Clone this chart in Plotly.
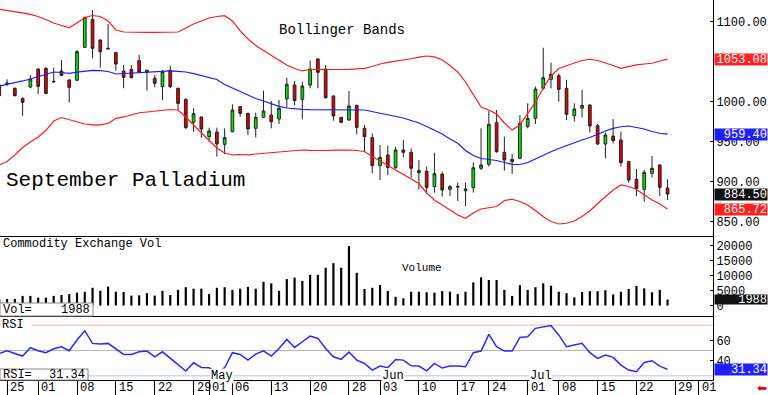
import plotly.graph_objects as go
import pandas as pd

# ---------------- data ----------------
holidays = ["2024-03-29", "2024-05-27", "2024-06-19", "2024-07-04"]
calendar = [d for d in pd.bdate_range("2024-03-22", "2024-08-02").strftime("%Y-%m-%d") if d not in holidays]
dates = calendar[:87]

open_ = [1020.7, 1023.2, 1016.6, 1004.1, 1018.2, 1040.7, 1041.6, 1024.5, 1038.2, 1027.0,
         1026.6, 1067.8, 1102.8, 1077.0, 1065.8, 1061.2, 1038.3, 1040.3, 1051.2, 1036.6,
         1029.1, 1018.7, 1039.1, 1016.6, 1002.8, 974.1, 980.75, 956.2, 962.0, 946.6,
         962.4, 993.7, 985.3, 966.6, 980.3, 983.25, 978.25, 1003.25, 1020.75, 1002.8,
         1020.75, 1053.25, 1040.75, 1007.0, 980.3, 977.0, 995.3, 966.6, 954.9, 919.9,
         933.25, 917.4, 939.5, 936.6, 911.2, 912.8, 893.7, 909.5, 890.3, 894.0,
         888.6, 892.4, 916.6, 921.6, 973.7, 936.6, 924.9, 929.1, 968.7, 979.1,
         1016.6, 1027.8, 1032.4, 1016.6, 982.4, 991.6, 995.75, 969.9, 947.0, 957.0,
         952.0, 924.9, 902.8, 890.3, 910.3, 920.75, 892.0]
high = [1022.0, 1027.8, 1017.5, 1005.0, 1033.2, 1041.5, 1043.0, 1042.4, 1052.0, 1028.0,
        1064.5, 1106.0, 1114.5, 1078.0, 1097.0, 1062.0, 1045.8, 1045.8, 1058.3, 1040.0,
        1033.3, 1039.5, 1044.9, 1017.5, 1004.0, 991.6, 981.5, 967.4, 967.4, 966.6,
        996.6, 994.5, 986.0, 986.2, 1013.7, 1000.75, 1002.0, 1029.9, 1025.75, 1024.9,
        1051.2, 1054.0, 1045.75, 1008.0, 981.0, 1013.25, 996.0, 970.75, 960.3, 945.75,
        944.9, 943.7, 952.0, 941.6, 927.0, 918.7, 936.2, 912.4, 895.75, 898.7,
        898.7, 924.1, 966.6, 988.25, 989.5, 956.2, 934.5, 983.25, 997.8, 1018.7,
        1067.4, 1048.7, 1035.3, 1027.0, 997.8, 1014.5, 996.5, 972.0, 961.2, 978.25,
        962.4, 926.0, 915.75, 914.5, 932.0, 921.5, 902.8]
low = [1005.0, 1019.5, 1006.5, 982.4, 1016.5, 1009.5, 1009.0, 1023.5, 1032.0, 998.7,
       1025.8, 1067.0, 1054.1, 1042.4, 1065.0, 1038.7, 1016.6, 1029.0, 1036.0, 1013.7,
       1017.8, 1002.0, 1017.0, 989.5, 966.0, 962.4, 954.9, 949.9, 931.2, 934.5,
       961.5, 981.2, 958.25, 955.3, 979.5, 966.6, 972.0, 992.8, 995.75, 977.8,
       1016.6, 1016.6, 1004.0, 976.2, 973.0, 976.0, 959.1, 937.4, 910.3, 902.0,
       908.25, 916.0, 930.3, 904.9, 890.3, 885.3, 886.2, 881.2, 882.0, 875.75,
       869.5, 886.2, 914.5, 918.7, 936.0, 913.7, 909.5, 928.0, 966.6, 972.0,
       1015.0, 1016.6, 999.9, 977.0, 974.9, 980.3, 961.2, 945.75, 929.1, 947.8,
       918.7, 898.7, 882.0, 874.9, 905.3, 882.0, 877.0]
close = [1007.4, 1022.6, 1007.4, 999.1, 1028.2, 1019.1, 1010.3, 1025.2, 1032.8, 1017.8,
         1062.4, 1105.3, 1066.6, 1062.4, 1066.6, 1047.0, 1030.3, 1029.9, 1036.6, 1039.1,
         1022.8, 1037.4, 1018.7, 997.8, 967.4, 984.9, 965.75, 963.25, 947.0, 954.9,
         989.5, 985.3, 965.75, 980.3, 988.25, 974.9, 991.6, 1021.6, 1001.2, 1019.5,
         1040.75, 1036.6, 1004.9, 982.0, 974.1, 994.5, 967.8, 956.2, 919.9, 930.3,
         917.8, 939.5, 936.6, 916.6, 913.7, 892.8, 909.9, 889.5, 893.7, 893.4,
         890.7, 917.4, 920.75, 971.6, 937.4, 927.0, 927.8, 972.8, 979.1, 1015.75,
         1029.9, 1034.1, 1015.3, 984.1, 990.75, 995.3, 969.5, 947.0, 958.25, 951.2,
         923.7, 902.0, 891.6, 911.6, 916.6, 892.8, 884.5]

bb_upper = [1115.4, 1114.1, 1112.6, 1110.8, 1109.1, 1106.4, 1102.6, 1098.3, 1095.1, 1092.6,
            1098.3, 1105.1, 1107.6, 1106.4, 1100.8, 1089.5, 1087.0, 1086.6, 1086.6, 1086.6,
            1086.6, 1086.6, 1086.6, 1087.0, 1092.0, 1097.0, 1100.8, 1104.5, 1106.4, 1107.4,
            1100.8, 1088.3, 1078.3, 1070.1, 1063.9, 1057.6, 1051.4, 1045.8, 1041.4, 1038.3,
            1040.1, 1040.1, 1039.5, 1039.5, 1040.1, 1040.4, 1040.8, 1041.6, 1043.9, 1047.0,
            1049.1, 1050.4, 1052.0, 1053.6, 1055.5, 1057.0, 1055.8, 1052.0, 1045.1, 1037.0,
            1024.5, 1008.3, 993.3, 989.5, 984.5, 973.3, 964.5, 970.8, 984.5, 999.5,
            1017.0, 1032.0, 1041.4, 1045.1, 1048.3, 1051.4, 1052.9, 1051.4, 1048.6, 1045.1,
            1041.6, 1043.9, 1045.8, 1047.0, 1047.9, 1050.8, 1053.08]
bb_middle = [1019.5, 1021.4, 1023.3, 1025.8, 1028.3, 1031.0, 1033.9, 1037.0, 1036.4, 1035.4,
             1036.8, 1038.3, 1039.0, 1038.6, 1037.6, 1034.5, 1035.1, 1035.9, 1036.4, 1037.0,
             1037.4, 1037.9, 1038.3, 1037.9, 1037.0, 1034.9, 1032.6, 1030.8, 1027.6, 1021.4,
             1017.0, 1012.4, 1007.4, 1003.9, 1000.8, 997.4, 994.1, 992.0, 990.8, 990.3,
             990.0, 989.8, 989.5, 989.5, 989.5, 989.5, 989.5, 989.5, 987.6, 985.8,
             983.6, 981.4, 979.5, 976.4, 973.3, 968.9, 963.9, 959.5, 953.3, 947.9,
             938.9, 932.6, 928.9, 927.9, 926.4, 923.9, 921.6, 921.4, 923.9, 928.3,
             933.3, 937.4, 941.4, 945.1, 948.9, 952.0, 955.1, 959.5, 963.3, 966.6,
             968.6, 969.5, 967.6, 965.8, 962.6, 960.4, 959.4]
bb_lower = [920.8, 925.1, 933.3, 942.6, 949.5, 955.8, 963.9, 975.8, 980.1, 977.6,
            974.5, 972.0, 970.8, 970.8, 972.6, 979.1, 980.8, 983.9, 986.1, 987.0,
            988.3, 989.3, 990.1, 989.5, 980.8, 970.8, 960.8, 951.4, 942.0, 935.8,
            933.3, 933.9, 933.3, 934.5, 935.4, 936.1, 936.6, 937.6, 938.9, 939.5,
            939.1, 938.6, 938.9, 939.3, 939.5, 939.5, 938.9, 937.6, 931.4, 925.8,
            920.1, 914.5, 909.5, 903.3, 897.6, 885.8, 877.0, 870.8, 864.5, 858.3,
            854.1, 860.8, 865.8, 867.6, 868.9, 876.4, 877.9, 875.1, 870.8, 863.9,
            856.1, 850.1, 847.0, 847.9, 850.8, 856.4, 863.3, 872.6, 880.8, 889.5,
            895.8, 893.9, 890.1, 883.3, 877.0, 872.0, 865.72]

volume = [2000, 2200, 2200, 3200, 3200, 2600, 2600, 3200, 3500, 3800,
          4300, 4600, 5900, 4900, 6300, 4600, 4500, 3300, 3400, 4100,
          3300, 4900, 3500, 5200, 6100, 5600, 5600, 3800, 5900, 6100,
          5200, 5600, 6200, 5600, 7900, 7400, 4900, 8800, 9300, 8200,
          10200, 10200, 12600, 14100, 12600, 19800, 10900, 5500, 5900, 6800,
          4800, 2900, 2400, 4600, 4600, 4400, 4300, 4800, 4600, 3800,
          4600, 7700, 9400, 8500, 8500, 5200, 3200, 6800, 5200, 6100,
          7400, 6600, 4600, 4100, 2700, 4500, 4800, 4800, 5100, 3700,
          4600, 5500, 6500, 5700, 4400, 5200, 1988]

rsi = [47.1, 49.7, 47.1, 44.5, 52.7, 49.7, 47.8, 51.7, 53.7, 49.7,
       60.3, 69.5, 57.0, 56.3, 57.0, 51.1, 46.1, 46.1, 48.7, 49.4,
       43.8, 48.7, 42.2, 35.6, 29.7, 37.9, 33.3, 33.0, 28.0, 33.0,
       47.8, 46.1, 40.5, 46.4, 49.7, 44.5, 52.0, 60.9, 53.0, 58.6,
       64.2, 61.9, 52.0, 43.8, 41.2, 48.4, 40.5, 37.2, 30.7, 34.6,
       33.0, 41.2, 40.5, 34.9, 34.6, 30.0, 37.2, 32.7, 34.6, 34.6,
       33.9, 47.8, 49.4, 65.9, 53.7, 49.4, 49.4, 62.9, 63.6, 71.8,
       73.5, 74.5, 65.3, 53.7, 55.4, 57.0, 47.8, 42.2, 45.5, 43.2,
       35.6, 30.7, 29.0, 38.2, 39.9, 34.6, 31.34]

tick_dates = ["2024-03-25", "2024-04-01", "2024-04-08", "2024-04-15", "2024-04-22", "2024-04-29",
              "2024-05-01", "2024-05-06", "2024-05-13", "2024-05-20", "2024-05-28", "2024-06-03",
              "2024-06-10", "2024-06-17", "2024-06-24", "2024-07-01", "2024-07-08", "2024-07-15",
              "2024-07-22", "2024-07-29", "2024-08-01"]
tick_labels = ["25", "01", "08", "15", "22", "29", "01", "06", "13", "20", "28", "03",
               "10", "17", "24", "01", "08", "15", "22", "29", "01"]
month_dates = ["2024-05-01", "2024-06-03", "2024-07-01"]
month_labels = ["May", "Jun", "Jul"]

price_ticks = [850, 900, 950, 1000, 1100]
price_tick_text = ["850.00", "900.00", "950.00", "1000.00", "1100.00"]
vol_ticks = [0, 5000, 10000, 15000, 20000]
rsi_ticks = [40, 60]
rsi_levels = [75, 50, 25]

# ---------------- figure ----------------
pos = {d: i for i, d in enumerate(calendar)}
x = [pos[d] for d in dates]
tick_x = [pos[d] for d in tick_dates]

FONT = "Liberation Mono"
fig = go.Figure()

fig.add_trace(go.Candlestick(
    x=x, open=open_, high=high, low=low, close=close, whiskerwidth=0,
    increasing=dict(line=dict(color="#222222", width=1), fillcolor="#00e600"),
    decreasing=dict(line=dict(color="#222222", width=1), fillcolor="#e60000"),
    xaxis="x", yaxis="y", hoverinfo="skip"))
for vals, col in [(bb_upper, "#ff1a1a"), (bb_middle, "#1a1aff"), (bb_lower, "#ff1a1a")]:
    fig.add_trace(go.Scatter(x=x, y=vals, mode="lines", line=dict(color=col, width=1.2),
                             xaxis="x", yaxis="y", hoverinfo="skip"))

fig.add_trace(go.Bar(x=x, y=volume, marker=dict(color="black", line=dict(width=0)), width=0.28,
                     xaxis="x2", yaxis="y2", hoverinfo="skip"))

fig.add_trace(go.Scatter(x=x, y=rsi, mode="lines", line=dict(color="#2828ff", width=1.5),
                         xaxis="x3", yaxis="y3", hoverinfo="skip"))

xr = [0.09, 91.85]
common_x = dict(range=xr, showgrid=False, zeroline=False, showline=True, linecolor="black",
                linewidth=1, ticks="", showticklabels=False)
common_y = dict(side="right", showgrid=False, zeroline=False, showline=True, linecolor="black",
                linewidth=1, ticks="inside", ticklen=3, tickcolor="black",
                tickfont=dict(family=FONT, size=12, color="black"))

fig.update_layout(
    width=768, height=395, margin=dict(l=0, r=55, t=0, b=15),
    paper_bgcolor="white", plot_bgcolor="white", showlegend=False, boxgap=0.5,
    font=dict(family=FONT, size=12, color="black"),
    xaxis=dict(domain=[0, 1], anchor="y", rangeslider=dict(visible=False), **common_x),
    xaxis2=dict(domain=[0, 1], anchor="y2", matches="x", **common_x),
    xaxis3=dict(domain=[0, 1], anchor="y3", matches="x",
                **{**common_x, "ticks": "outside", "ticklen": 15, "tickcolor": "black",
                   "tickvals": tick_x}),
    yaxis=dict(domain=[0.37895, 1], anchor="x", range=[832, 1127],
               tickvals=price_ticks, ticktext=price_tick_text, **common_y),
    yaxis2=dict(domain=[0.16842, 0.37632], anchor="x2", range=[-3500, 22833],
                tickvals=vol_ticks, ticktext=[str(v) for v in vol_ticks], **common_y),
    yaxis3=dict(domain=[0, 0.16579], anchor="x3", range=[20.9, 83.0],
                tickvals=rsi_ticks, ticktext=[str(v) for v in rsi_ticks], **common_y),
)

shapes = []
for lvl, col in zip(rsi_levels, ["#ffb0b0", "#b4b4b4", "#b8c0ff"]):
    shapes.append(dict(type="line", xref="paper", x0=0, x1=1, yref="y3", y0=lvl, y1=lvl,
                       line=dict(color=col, width=1), layer="below"))
# info boxes
shapes.append(dict(type="rect", xref="paper", yref="paper", x0=0, x1=93 / 713, y0=64 / 380, y1=77 / 380,
                   line=dict(color="#888888", width=1), fillcolor="white"))
shapes.append(dict(type="rect", xref="paper", yref="paper", x0=0, x1=88 / 713, y0=0, y1=11 / 380,
                   line=dict(color="#888888", width=1), fillcolor="white"))
fig.update_layout(shapes=shapes)

ann = []
def txt(text, x, y, xanchor="left", size=12, xref="paper", yref="paper", **kw):
    ann.append(dict(text=text, x=x, y=y, xref=xref, yref=yref, xanchor=xanchor, yanchor="middle",
                    showarrow=False, font=dict(family=kw.pop("family", FONT), size=size,
                                               color=kw.pop("color", "black")), **kw))

txt("Bollinger Bands", 342 / 713, (380 - 30) / 380, xanchor="center", size=14)
txt("September Palladium", 4 / 713, (380 - 180) / 380, size=21)
txt("Commodity Exchange Vol", 1 / 713, (380 - 244) / 380, size=12)
txt("Volume", 400 / 713, (380 - 268) / 380, size=11)
txt("RSI ", 1 / 713, (380 - 325) / 380, size=12, bgcolor="white", borderpad=0)
txt("Vol=", 0.5 / 713, (380 - 309.5) / 380, size=12)
txt("1988", 92 / 713, (380 - 309.5) / 380, xanchor="right", size=12)
txt("RSI=", 0.5 / 713, (380 - 374.5) / 380, size=12)
txt("31.34", 87 / 713, (380 - 374.5) / 380, xanchor="right", size=12)

for d, lab in zip(month_dates, month_labels):
    txt(lab, pos[d], 25, xref="x3", yref="y3", size=12, bgcolor="white", borderpad=0, xshift=1)

for tx, lab in zip(tick_x, tick_labels):
    txt(lab, tx, -8 / 380, xref="x3", size=12, xshift=1)

# value boxes on the right axis
def vbox(text, y, yref, bg, h=11, size=12):
    ann.append(dict(text=text, x=1, y=y, xref="paper", yref=yref, xanchor="left", yanchor="middle",
                    xshift=1, showarrow=False, width=52, height=h, align="right", borderpad=0,
                    bgcolor=bg, font=dict(family=FONT, size=size, color="white")))

vbox("1053.08", bb_upper[-1], "y", "#ff2020")
vbox("959.40", bb_middle[-1], "y", "#2020ff")
vbox("884.50", close[-1], "y", "#111111")
vbox("865.72", bb_lower[-1], "y", "#ff2020")
vbox("1988", volume[-1], "y2", "#111111", h=9, size=12)
vbox("31.34", rsi[-1], "y3", "#2020ff", h=11)

txt("\u2b05", 762 / 713, -8 / 380, xanchor="center", size=12, color="#ee0000", family="DejaVu Sans")

fig.update_layout(annotations=ann)
fig.write_html("out.html", config={"displayModeBar": False},
               post_script="document.body.style.margin='0px';document.body.style.padding='0px';")
